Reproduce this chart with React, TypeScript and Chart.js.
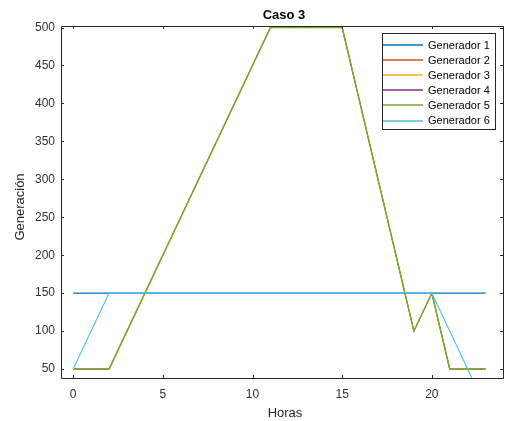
import React, { useEffect, useRef } from "react";
import { Chart, registerables } from "chart.js";

Chart.register(...registerables);

const hours = [0, 1, 2, 3, 4, 5, 6, 7, 8, 9, 10, 11, 12, 13, 14, 15, 16, 17, 18, 19, 20, 21, 22, 23];
const gen1 = [150, 150, 150, 150, 150, 150, 150, 150, 150, 150, 150, 150, 150, 150, 150, 150, 150, 150, 150, 150, 150, 150, 150, 150];
const gen2 = [50, 50, 50, 100, 150, 200, 250, 300, 350, 400, 450, 500, 500, 500, 500, 500, 400, 300, 200, 100, 150, 50, 50, 50];
const gen3 = [50, 50, 50, 100, 150, 200, 250, 300, 350, 400, 450, 500, 500, 500, 500, 500, 400, 300, 200, 100, 150, 50, 50, 50];
const gen4 = [50, 50, 50, 100, 150, 200, 250, 300, 350, 400, 450, 500, 500, 500, 500, 500, 400, 300, 200, 100, 150, 50, 50, 50];
const gen5 = [50, 50, 50, 100, 150, 200, 250, 300, 350, 400, 450, 500, 500, 500, 500, 500, 400, 300, 200, 100, 150, 50, 50, 50];
const gen6 = [50, 100, 150, 150, 150, 150, 150, 150, 150, 150, 150, 150, 150, 150, 150, 150, 150, 150, 150, 150, 150, 100, 50, 0];

const seriesNames = ["Generador 1", "Generador 2", "Generador 3", "Generador 4", "Generador 5", "Generador 6"];
const seriesValues = [gen1, gen2, gen3, gen4, gen5, gen6];
const seriesColors = ["#0072BD", "#D95319", "#EDB120", "#7E2F8E", "#77AC30", "#4DBEEE"];
const xTicks = [0, 5, 10, 15, 20];
const yTicks = [50, 100, 150, 200, 250, 300, 350, 400, 450, 500];
const titleText = "Caso 3";
const xTitle = "Horas";
const yTitle = "Generación";

const TEXT = "#262626";
const FONT = "'Liberation Sans', Arial, sans-serif";

const decor = {
  id: "decor",
  afterDatasetsDraw(chart: any) {
    const ctx = chart.ctx;
    const a = chart.chartArea;
    const xs = chart.scales.x;
    const ys = chart.scales.y;
    ctx.save();
    ctx.strokeStyle = TEXT;
    ctx.lineWidth = 1;
    ctx.beginPath();
    ctx.rect(Math.round(a.left) + 0.5, Math.round(a.top) + 0.5, Math.round(a.right - a.left), Math.round(a.bottom - a.top));
    ctx.stroke();
    const tl = 3;
    ctx.beginPath();
    xTicks.forEach((t) => {
      const px = Math.round(xs.getPixelForValue(t)) + 0.5;
      ctx.moveTo(px, a.bottom);
      ctx.lineTo(px, a.bottom - tl);
      ctx.moveTo(px, a.top);
      ctx.lineTo(px, a.top + tl);
    });
    yTicks.forEach((t) => {
      const py = Math.round(ys.getPixelForValue(t)) + 0.5;
      ctx.moveTo(a.left, py);
      ctx.lineTo(a.left + tl, py);
      ctx.moveTo(a.right, py);
      ctx.lineTo(a.right - tl, py);
    });
    ctx.stroke();
    ctx.fillStyle = "#000";
    ctx.font = `bold 13px ${FONT}`;
    ctx.textAlign = "center";
    ctx.textBaseline = "middle";
    ctx.fillText(titleText, (a.left + a.right) / 2 + 2, 15);
    ctx.fillStyle = TEXT;
    ctx.font = `13px ${FONT}`;
    ctx.fillText(xTitle, (a.left + a.right) / 2 + 3, 413);
    ctx.save();
    ctx.translate(20, (a.top + a.bottom) / 2 + 5);
    ctx.rotate(-Math.PI / 2);
    ctx.fillText(yTitle, 0, 0);
    ctx.restore();
    const lx = 382, ly = 33, lw = 113, lh = 96;
    ctx.fillStyle = "#fff";
    ctx.fillRect(lx, ly, lw, lh);
    ctx.strokeStyle = TEXT;
    ctx.lineWidth = 1;
    ctx.strokeRect(lx + 0.5, ly + 0.5, lw, lh);
    ctx.font = `11px ${FONT}`;
    ctx.textAlign = "left";
    ctx.textBaseline = "middle";
    chart.data.datasets.forEach((ds: any, i: number) => {
      const cy = 45 + i * 15.1;
      ctx.strokeStyle = seriesColors[i];
      ctx.lineWidth = 1.5;
      ctx.beginPath();
      ctx.moveTo(lx + 1, Math.round(cy));
      ctx.lineTo(lx + 41, Math.round(cy));
      ctx.stroke();
      ctx.fillStyle = "#000";
      ctx.fillText(ds.label, lx + 46, cy + 0.5);
    });
    ctx.restore();
  },
};

export default function App() {
  const ref = useRef<HTMLCanvasElement>(null);
  useEffect(() => {
    const datasets = seriesNames.map((name, i) => ({
      label: name,
      data: hours.map((h, j) => ({ x: h, y: seriesValues[i][j] })),
      borderColor: seriesColors[i],
      backgroundColor: seriesColors[i],
      borderWidth: i === 4 ? 1.5 : i >= 1 && i <= 3 ? 0.8 : 1.1,
      pointRadius: 0,
      fill: false,
      tension: 0,
      order: seriesNames.length - i,
    }));
    const chart = new Chart(ref.current!, {
      type: "line",
      data: { datasets },
      options: {
        animation: false,
        responsive: false,
        layout: { padding: { top: 26, right: 5, left: 0, bottom: 0 } },
        plugins: { legend: { display: false }, title: { display: false }, tooltip: { enabled: false } },
        scales: {
          x: {
            type: "linear",
            min: -0.68,
            max: 23.97,
            grid: { display: false, drawTicks: false },
            border: { display: false },
            afterBuildTicks: (s: any) => { s.ticks = xTicks.map((v) => ({ value: v })); },
            afterFit: (s: any) => { s.height = 43; },
            ticks: { color: "#333", font: { family: FONT, size: 12 }, padding: 9, maxRotation: 0, autoSkip: false },
          },
          y: {
            type: "linear",
            min: 38.2,
            max: 502,
            grid: { display: false, drawTicks: false },
            border: { display: false },
            afterBuildTicks: (s: any) => { s.ticks = yTicks.map((v) => ({ value: v })); },
            afterFit: (s: any) => { s.width = 61; },
            ticks: { color: "#333", font: { family: FONT, size: 12 }, padding: 6, autoSkip: false },
          },
        },
      },
      plugins: [decor],
    });
    return () => chart.destroy();
  }, []);
  return (
    <div style={{ position: "fixed", left: 0, top: 0, width: 508, height: 421, background: "#fff" }}>
      <canvas ref={ref} width={508} height={421} style={{ width: 508, height: 421, display: "block" }} />
    </div>
  );
}
